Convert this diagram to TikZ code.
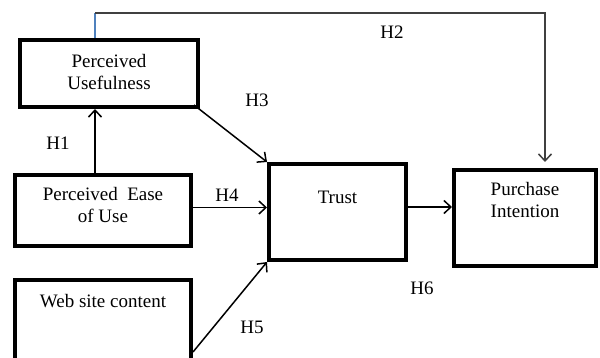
\documentclass[tikz,border=0pt]{standalone}
\usepackage{fontspec}
\setmainfont{Liberation Serif}
\usetikzlibrary{arrows.meta}
\definecolor{wordblue}{RGB}{79,129,189}
\begin{document}
\begin{tikzpicture}[x=1pt,y=-1pt,
  box/.style={draw,line width=4pt,inner sep=0pt,anchor=north west,font=\fontsize{19}{22}\selectfont},
  arr/.style={-{Straight Barb[length=7pt,width=13pt]},line width=1.5pt},
  lbl/.style={font=\fontsize{19}{22}\selectfont}]
\useasboundingbox (0,0) rectangle (600,358);
\clip (0,0) rectangle (600,358);
% boxes
\node[box,minimum width=178pt,text height=28pt,text depth=39pt](PU) at (18,38){\begin{tabular}[t]{@{}c@{}}Perceived\\Usefulness\end{tabular}};
\node[box,minimum width=176pt,text height=26pt,text depth=45pt](PEOU) at (13,173){\begin{tabular}[t]{@{}c@{}}Perceived\ \ Ease\\of Use\end{tabular}};
\node[box,minimum width=176pt,text height=28pt,text depth=56pt](WSC) at (13,278){Web site content};
\node[box,minimum width=137pt,text height=40pt,text depth=56pt](Trust) at (267,162){Trust};
\node[box,minimum width=142pt,text height=26pt,text depth=70pt](PI) at (452,168){\begin{tabular}[t]{@{}l@{}}Purchase\\Intention\end{tabular}};
% hypotheses
\coordinate (uj) at ([xshift=77pt]PU.south west);
\draw[arr](PEOU.north -| uj)--(uj);
\draw[wordblue,line width=1.5pt]([xshift=77pt]PU.north west)--++(0,-25)coordinate(top);
\draw[arr,black!75](top)-|([xshift=93pt,yshift=6pt]PI.north west);
\draw[arr]([shift={(-6pt,4pt)}]PU.south east)--(Trust.north west);
\draw[arr]([yshift=3pt]PEOU.east)--([yshift=3pt]PEOU.east -| Trust.west);
\draw[arr]([yshift=14pt]WSC.south east)--(Trust.south west);
\draw[arr]([yshift=5pt]Trust.east)--([yshift=5pt]Trust.east -| PI.west);
\node[lbl](lH1) at (58,143){H1};
\node[lbl](lH2) at (392,32){H2};
\node[lbl](lH3) at (257,100){H3};
\node[lbl](lH4) at (227,195){H4};
\node[lbl](lH5) at (252,327){H5};
\node[lbl](lH6) at (422,288){H6};
\end{tikzpicture}
\end{document}
